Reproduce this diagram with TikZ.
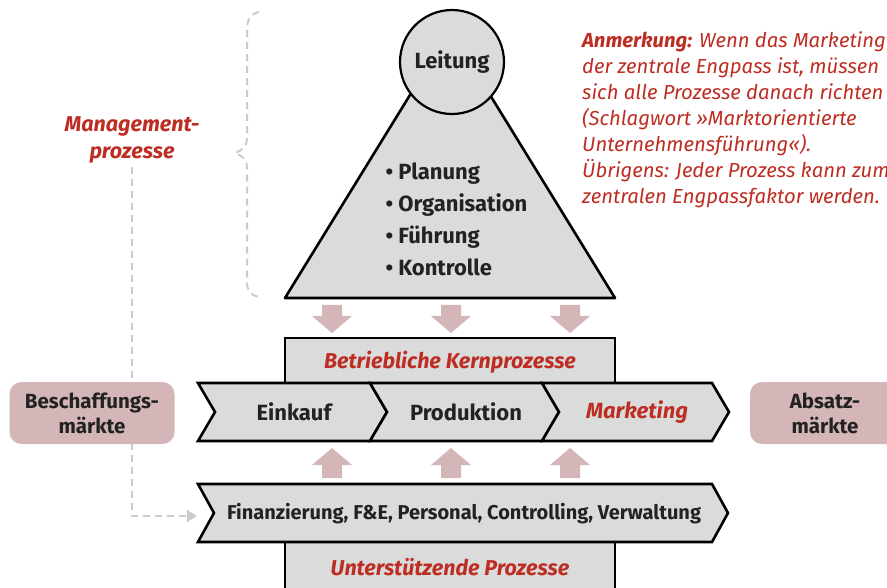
\documentclass[tikz,border=0pt]{standalone}
\usepackage{fontspec}
\setsansfont{Fira Sans}
\usetikzlibrary{arrows.meta}

\definecolor{boxgray}{HTML}{DADBDB}
\definecolor{flowpink}{HTML}{D4B5B8}
\definecolor{notered}{HTML}{BE2D23}
\definecolor{inkdark}{HTML}{222222}
\definecolor{guidegray}{HTML}{CBCBCB}

\begin{document}
\begin{tikzpicture}
    [font=\sffamily\bfseries\fontsize{22}{26}\selectfont, text=inkdark,
     x=1pt, y=-1pt,
     >={Triangle[length=10pt, width=12pt]},
     outline/.style={draw=black, line width=2.6pt, fill=boxgray, line join=miter},
     market/.style={fill=flowpink, rounded corners=12pt, minimum width=165pt,
                    minimum height=62pt, align=center,
                    font=\sffamily\bfseries\fontsize{20.5}{25}\selectfont},
     redtext/.style={text=notered, font=\sffamily\bfseries\itshape\fontsize{21.5}{27}\selectfont},
     guide/.style={draw=guidegray, line width=2pt, dash pattern=on 7pt off 5pt},
     flow/.style={fill=flowpink},
    ]
    \useasboundingbox (0,0) rectangle (887,588);

    % Management brace
    \draw[guide] (259,12) .. controls (250,14) and (247,20) .. (247,30) -- (247,138)
        .. controls (247,146) and (243,150) .. (235,153)
        .. controls (243,156) and (247,160) .. (247,168) -- (247,282)
        .. controls (247,290) and (250,295) .. (259,297);
    \node[redtext, align=center] (mgmt) at (132,140) {Management-\\prozesse};

    % Pyramid with Leitung on top
    \draw[outline, line join=round] (285,298) -- (450,30) -- (615,298) -- cycle;
    \node[outline, circle, line width=2.2pt, minimum size=104pt, inner sep=0]
        (lead) at (452,62) {Leitung};
    \node[align=left, anchor=west, font=\sffamily\bfseries\fontsize{22}{32}\selectfont]
        (tasks) at (382,219)
        {\textbullet\ Planung\\\textbullet\ Organisation\\\textbullet\ Führung\\\textbullet\ Kontrolle};

    % Note
    \node[anchor=north west, align=left, inner sep=0, text=notered,
          font=\sffamily\mdseries\itshape\fontsize{20.3}{26}\selectfont]
        (note) at (582,31)
        {\textbf{Anmerkung:} Wenn das Marketing\\der zentrale Engpass ist, müssen\\
         sich alle Prozesse danach richten\\(Schlagwort »Marktorientierte\\
         Unternehmensführung«).\\Übrigens: Jeder Prozess kann zum\\
         zentralen Engpassfaktor werden.};

    % Flow arrows
    \foreach \ax in {332, 451, 570} {
        \fill[flow] (\ax-10,305) -- (\ax+10,305) -- (\ax+10,316) -- (\ax+20,316)
            -- (\ax,333) -- (\ax-20,316) -- (\ax-10,316) -- cycle;
        \fill[flow] (\ax-10,478) -- (\ax+10,478) -- (\ax+10,465) -- (\ax+20,465)
            -- (\ax,448) -- (\ax-20,465) -- (\ax-10,465) -- cycle;
    }

    % Core processes
    \draw[outline] (285,338) rectangle (615,390);
    \node[redtext] (core) at (450,362) {Betriebliche Kernprozesse};
    \foreach \xa / \xb / \pname / \ptext in
             {198/370/buy/Einkauf, 370/542/make/Produktion,
              542/712/sell/{\color{notered}\itshape Marketing}} {
        \draw[outline] (\xa,383) -- (\xb,383) -- (\xb+17,412) -- (\xb,441)
            -- (\xa,441) -- (\xa+17,412) -- cycle;
        \node (\pname) at ({(\xa+\xb)/2+10},412) {\ptext};
    }

    % Support processes
    \draw[outline] (285,535) rectangle (615,600);
    \node[redtext] (supp) at (450,567) {Unterstützende Prozesse};
    \draw[outline] (198,484) -- (712,484) -- (728,513) -- (712,542)
        -- (198,542) -- (214,513) -- cycle;
    \node[font=\sffamily\bfseries\fontsize{20}{22}\selectfont] (support) at (464,514)
        {Finanzierung, F\&E, Personal, Controlling, Verwaltung};
    \coordinate (supportin) at (197,516);

    % Guide line from management down to support
    \draw[guide, ->, guidegray] (mgmt.south) |- (supportin);

    % Markets
    \node[market] (procure) at (92,413) {Beschaffungs-\\märkte};
    \node[market, minimum width=150pt] (sales) at (825,413) {Absatz-\\märkte};
\end{tikzpicture}
\end{document}
